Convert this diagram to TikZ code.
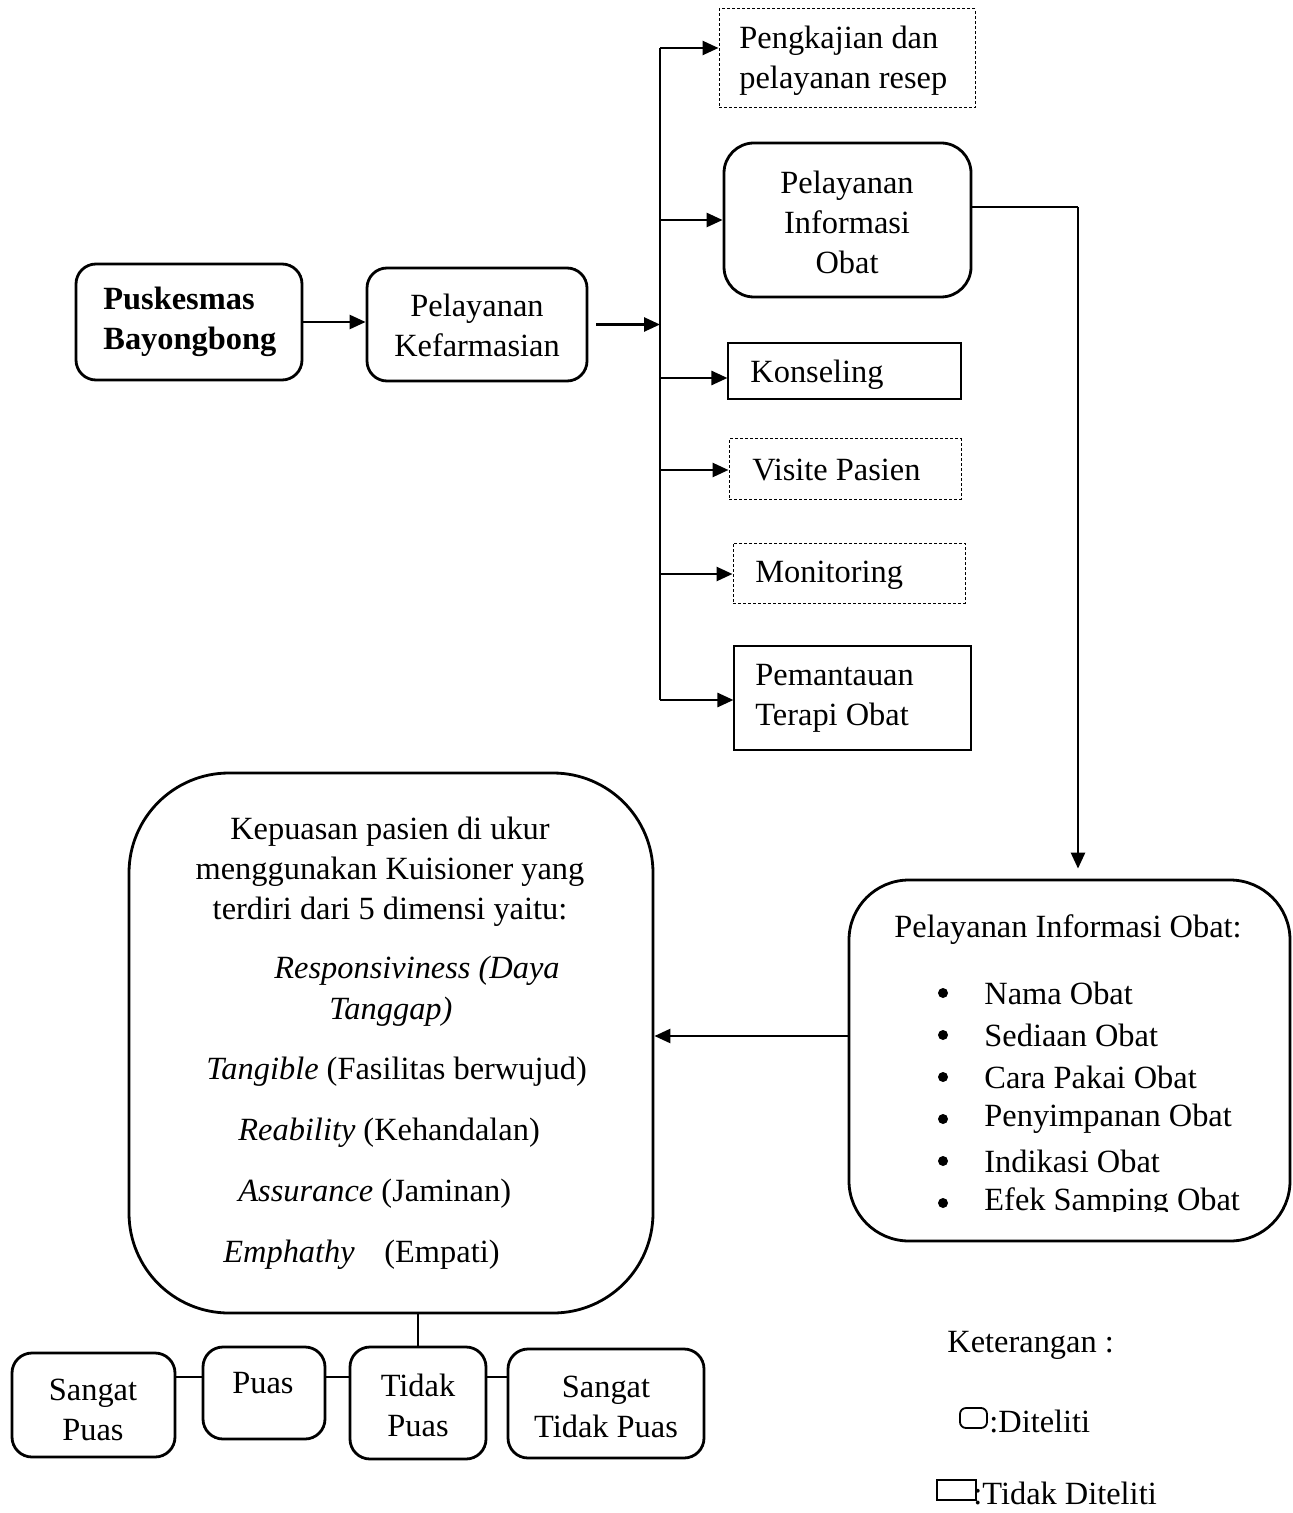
\documentclass[tikz,border=0pt]{standalone}
\usepackage{fontspec}
\setmainfont{Liberation Serif}
\usetikzlibrary{arrows.meta}
\begin{document}
\begin{tikzpicture}[x=0.5pt,y=-0.5pt,
  every node/.style={font=\fontsize{16.2}{20}\selectfont, inner sep=0pt},
  rbox/.style={draw, line width=1.4pt, rounded corners=10pt},
  sbox/.style={draw, line width=0.55pt},
  dbox/.style={draw, line width=0.5pt, dash pattern=on 1.5pt off 1pt},
  arr/.style={line width=1.3pt, -{Triangle[length=8pt,width=7pt]}},
  thinln/.style={line width=0.6pt},
  dot/.style={circle, fill, minimum size=5pt},
  ctxt/.style={align=center},
  ltxt/.style={align=left, anchor=west}]
\useasboundingbox (0,0) rectangle (1293,1513);

% left chain
\node[rbox, minimum width=113pt, minimum height=58pt] (pusk) at (189,322) {};
\node[ltxt] (tpusk) at (103,322) {\textbf{Puskesmas}\\\textbf{Bayongbong}};
\node[rbox, minimum width=110pt, minimum height=56.5pt] (kef) at (477,324.5) {};
\node[ctxt] (tkef) at (477,325) {Pelayanan\\Kefarmasian};
\draw[arr] (pusk.east) -- (pusk.east -| kef.west);

% branching
\coordinate (br) at (660,327);
\coordinate (b1) at (660,48);
\coordinate (b2) at (660,220);
\coordinate (b3) at (660,378);
\coordinate (b4) at (660,470);
\coordinate (b5) at (660,574);
\coordinate (b6) at (660,700);
\draw[arr] ([xshift=4pt]kef.east) -- (kef.east -| br);
\draw[line width=0.7pt] (b1) -- (b6);

% right boxes
\node[dbox, minimum width=128pt, minimum height=49.5pt] (p1) at (847,58.5) {};
\node[ltxt] (t1) at (739,61) {Pengkajian dan\\pelayanan resep};
\node[rbox, rounded corners=15pt, minimum width=123.5pt, minimum height=77pt] (p2) at (847.5,220) {};
\node[ctxt] (t2) at (847,222) {Pelayanan\\Informasi\\Obat};
\node[sbox, minimum width=116.5pt, minimum height=28pt] (p3) at (844.5,371) {};
\node[ltxt] (t3) at (750,375) {Konseling};
\node[dbox, minimum width=116pt, minimum height=30pt] (p4) at (845,469) {};
\node[ltxt] (t4) at (752,470) {Visite Pasien};
\node[dbox, minimum width=116pt, minimum height=30pt] (p5) at (849,573) {};
\node[ltxt] (t5) at (755,575) {Monitoring};
\node[sbox, minimum width=118.5pt, minimum height=52pt] (p6) at (852.5,698) {};
\node[ltxt] (t6) at (755,698) {Pemantauan\\Terapi Obat};

\draw[arr] (b1) -- (b1 -| p1.west);
\draw[arr] (b2) -- (b2 -| p2.west);
\draw[arr] (b3) -- (b3 -| p3.west);
\draw[arr] (b4) -- (b4 -| p4.west);
\draw[arr] (b5) -- (b5 -| p5.west);
\draw[arr] (b6) -- (b6 -| p6.west);

% PIO detail box
\node[rbox, rounded corners=30pt, minimum width=220.5pt, minimum height=180.5pt] (info) at (1069.5,1060.5) {};
\coordinate (c1) at (1078,207);
\draw[thinln] (p2.east |- c1) -- (c1);
\draw[arr] (c1) -- ([yshift=5pt]info.north -| c1);
\node[ctxt] (ititle) at (1068,930) {Pelayanan Informasi Obat:};
\node[dot] (bu1) at (943,993) {};
\node[dot] (bu2) at (943,1035) {};
\node[dot] (bu3) at (943,1077) {};
\node[dot] (bu4) at (943,1119) {};
\node[dot] (bu5) at (943,1161) {};
\node[dot] (bu6) at (943,1203) {};
\node[ltxt] (i1) at (984,993) {Nama Obat};
\node[ltxt] (i2) at (984,1035) {Sediaan Obat};
\node[ltxt] (i3) at (984,1077) {Cara Pakai Obat};
\node[ltxt] (i4) at (984,1119) {Penyimpanan Obat};
\node[ltxt] (i5) at (984,1161) {Indikasi Obat};
\begin{scope}
\clip (860,1170) rectangle (1280,1211);
\node[ltxt] (i6) at (984,1203) {Efek Samping Obat};
\end{scope}

% Kepuasan box
\node[rbox, rounded corners=50pt, minimum width=262pt, minimum height=270pt] (kep) at (391,1043) {};
\coordinate (ya) at (0,1036);
\draw[arr] (info.west |- ya) -- (kep.east |- ya);
\node[ctxt] (k1) at (390,872) {Kepuasan pasien di ukur\\menggunakan Kuisioner yang\\terdiri dari 5 dimensi yaitu:};
\node[ltxt] (k2) at (274,971) {\textit{Responsiviness (Daya}};
\node[ltxt] (k3) at (329,1012) {\textit{Tanggap)}};
\node[ltxt] (k4) at (206,1072) {\textit{Tangible} (Fasilitas berwujud)};
\node[ltxt] (k5) at (238,1133) {\textit{Reability} (Kehandalan)};
\node[ltxt] (k6) at (238,1194) {\textit{Assurance} (Jaminan)};
\node[ltxt] (k7) at (223,1255) {\textit{Emphathy}};
\node[ltxt] (k8) at (384,1255) {(Empati)};

% bottom boxes
\node[rbox, minimum width=81.5pt, minimum height=52pt] (s1) at (93.5,1405) {};
\node[ctxt] (ts1) at (93,1410) {Sangat\\Puas};
\node[rbox, minimum width=61pt, minimum height=46pt] (s2) at (264,1393) {};
\node[ctxt] (ts2) at (263,1383) {Puas};
\node[rbox, minimum width=68pt, minimum height=56pt] (s3) at (418,1403) {};
\node[ctxt] (ts3) at (418,1405) {Tidak\\Puas};
\node[rbox, minimum width=98pt, minimum height=54.5pt] (s4) at (606,1403.5) {};
\node[ctxt] (ts4) at (606,1407) {Sangat\\Tidak Puas};
\coordinate (yl) at (0,1377);
\draw[line width=1pt] (s3.north |- kep.south) -- (s3.north);
\draw[thinln] (s1.east |- yl) -- (s2.west |- yl);
\draw[thinln] (s2.east |- yl) -- (s3.west |- yl);
\draw[thinln] (s3.east |- yl) -- (s4.west |- yl);

% legend
\node[ltxt] (ket) at (947,1345) {Keterangan :};
\node[draw, line width=0.9pt, rounded corners=3pt, minimum width=13.5pt, minimum height=10pt] (l1) at (973.5,1418) {};
\node[ltxt] (tl1) at (989,1421) {:Diteliti};
\node[draw, line width=1pt, minimum width=19.5pt, minimum height=10pt] (l2) at (956.5,1490) {};
\node[ltxt] (tl2) at (973,1493) {:Tidak Diteliti};
\end{tikzpicture}
\end{document}
